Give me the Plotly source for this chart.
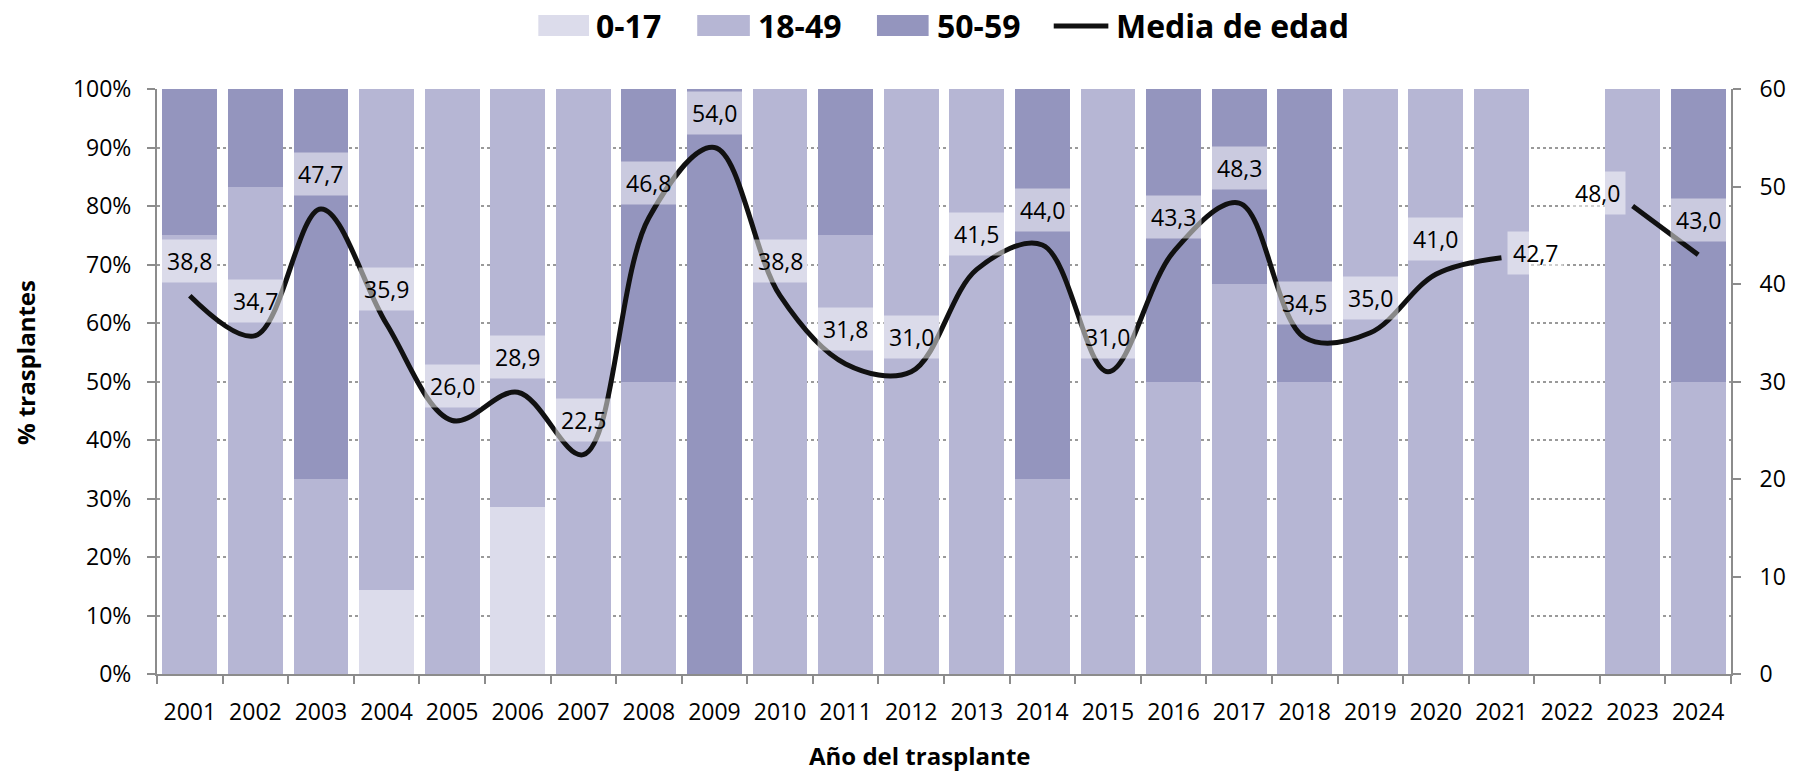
import plotly.graph_objects as go

# Transplant years (x categories)
years = [str(y) for y in range(2001, 2025)]

# Share of transplants by recipient age group (%), stacked bottom to top
pct_0_17 = [0, 0, 0, 14.3, 0, 28.6, 0, 0, 0, 0, 0, 0,
            0, 0, 0, 0, 0, 0, 0, 0, 0, None, 0, 0]
pct_18_49 = [75.0, 83.3, 33.3, 85.7, 100, 71.4, 100, 50.0, 0, 100, 75.0, 100,
             100, 33.3, 100, 50.0, 66.7, 50.0, 100, 100, 100, None, 100, 50.0]
pct_50_59 = [25.0, 16.7, 66.7, 0, 0, 0, 0, 50.0, 100, 0, 25.0, 0,
             0, 66.7, 0, 50.0, 33.3, 50.0, 0, 0, 0, None, 0, 50.0]

# Mean recipient age (right axis)
mean_age = [38.8, 34.7, 47.7, 35.9, 26.0, 28.9, 22.5, 46.8, 54.0, 38.8, 31.8, 31.0,
            41.5, 44.0, 31.0, 43.3, 48.3, 34.5, 35.0, 41.0, 42.7, None, 48.0, 43.0]

series_names = ["0-17", "18-49", "50-59"]
series_values = [pct_0_17, pct_18_49, pct_50_59]
series_colors = ["#DCDCEB", "#B6B6D4", "#9495BE"]
line_name = "Media de edad"

# Canvas / plot-area geometry in pixels
W, H = 1798, 773
ML, MR, MT, MB = 157, 56, 89, 99
PW, PH = W - ML - MR, H - MT - MB

FONT = "Open Sans, Noto Sans, DejaVu Sans, sans-serif"
AXIS_GRAY = "#8C8C8C"


def px_x(x):
    return (x - ML) / PW


def px_y(y):
    return (H - MB - y) / PH


fig = go.Figure()

for name, vals, col in zip(series_names, series_values, series_colors):
    fig.add_trace(go.Bar(
        x=years, y=vals, name=name, marker_color=col,
        marker_line_width=0, showlegend=False, hoverinfo="skip",
    ))

fig.add_trace(go.Scatter(
    x=years, y=mean_age, name=line_name, yaxis="y2", mode="lines",
    line=dict(color="#111111", width=5, shape="spline", smoothing=1.0),
    connectgaps=False, showlegend=False, hoverinfo="skip",
))

# Value labels for the mean-age line (pixel nudges per label);
# x is given as the category index so numeric-looking years stay categorical
label_nudge = {"2021": (34, 5), "2023": (-35, 13)}
annotations = []
for i, (yr, v) in enumerate(zip(years, mean_age)):
    if v is None:
        continue
    dx, dy = label_nudge.get(yr, (0, 35))
    annotations.append(dict(
        x=i, y=v, xref="x", yref="y2", text=f"{v:.1f}".replace(".", ","),
        showarrow=False, xshift=dx, yshift=dy,
        font=dict(family=FONT, size=23, color="#000000"),
        bgcolor="rgba(255,255,255,0.5)", borderpad=5,
    ))

# Axis titles
annotations.append(dict(
    x=px_x(24), y=px_y(362), xref="paper", yref="paper", text="<b>% trasplantes</b>",
    textangle=-90, showarrow=False, xanchor="center", yanchor="middle",
    font=dict(family=FONT, size=24, color="#000000"),
))
annotations.append(dict(
    x=px_x(925), y=px_y(755), xref="paper", yref="paper", text="<b>Año del trasplante</b>",
    showarrow=False, xanchor="center", yanchor="middle",
    font=dict(family=FONT, size=24, color="#000000"),
))

# Legend drawn across the top
shapes = []
legend_items = [
    ("rect", series_colors[0], 541, 592, series_names[0], 597),
    ("rect", series_colors[1], 701, 754, series_names[1], 760),
    ("rect", series_colors[2], 882, 934, series_names[2], 940),
    ("line", "#111111", 1060, 1115, line_name, 1121),
]
for kind, col, x0, x1, label, tx in legend_items:
    if kind == "rect":
        shapes.append(dict(type="rect", xref="paper", yref="paper",
                           x0=px_x(x0), x1=px_x(x1), y0=px_y(36), y1=px_y(15),
                           fillcolor=col, line_width=0, layer="above"))
    else:
        shapes.append(dict(type="line", xref="paper", yref="paper",
                           x0=px_x(x0), x1=px_x(x1), y0=px_y(26), y1=px_y(26),
                           line=dict(color=col, width=5), layer="above"))
    annotations.append(dict(
        x=px_x(tx), y=px_y(26), xref="paper", yref="paper", text=f"<b>{label}</b>",
        showarrow=False, xanchor="left", yanchor="middle",
        font=dict(family=FONT, size=32, color="#000000"),
    ))

fig.update_layout(
    width=W, height=H, autosize=False,
    margin=dict(l=ML, r=MR, t=MT, b=MB),
    paper_bgcolor="white", plot_bgcolor="white",
    barmode="stack", bargap=0.165,
    font=dict(family=FONT, size=23, color="#000000"),
    xaxis=dict(
        type="category", categoryorder="array", categoryarray=years,
        range=[-0.5, len(years) - 0.5],
        tickson="boundaries", ticks="outside", ticklen=8, tickwidth=2,
        tickcolor=AXIS_GRAY, showline=True, linecolor=AXIS_GRAY, linewidth=2,
        showgrid=False, tickfont=dict(size=23), ticklabelstandoff=16,
        tickangle=0,
    ),
    yaxis=dict(
        range=[0, 100], dtick=10, ticksuffix="%", showgrid=True,
        gridcolor="#9A9A9A", griddash="dot", gridwidth=1.5,
        showline=True, linecolor=AXIS_GRAY, linewidth=2,
        ticks="outside", ticklen=8, tickwidth=2, tickcolor=AXIS_GRAY,
        zeroline=False, tickfont=dict(size=23), ticklabelstandoff=11,
    ),
    yaxis2=dict(
        range=[0, 60], dtick=10, overlaying="y", side="right", showgrid=False,
        showline=True, linecolor=AXIS_GRAY, linewidth=2,
        ticks="outside", ticklen=8, tickwidth=2, tickcolor=AXIS_GRAY,
        zeroline=False, tickfont=dict(size=23), ticklabelstandoff=14,
    ),
    shapes=shapes,
    annotations=annotations,
)

fig.write_html("out.html", config={"displayModeBar": False})
